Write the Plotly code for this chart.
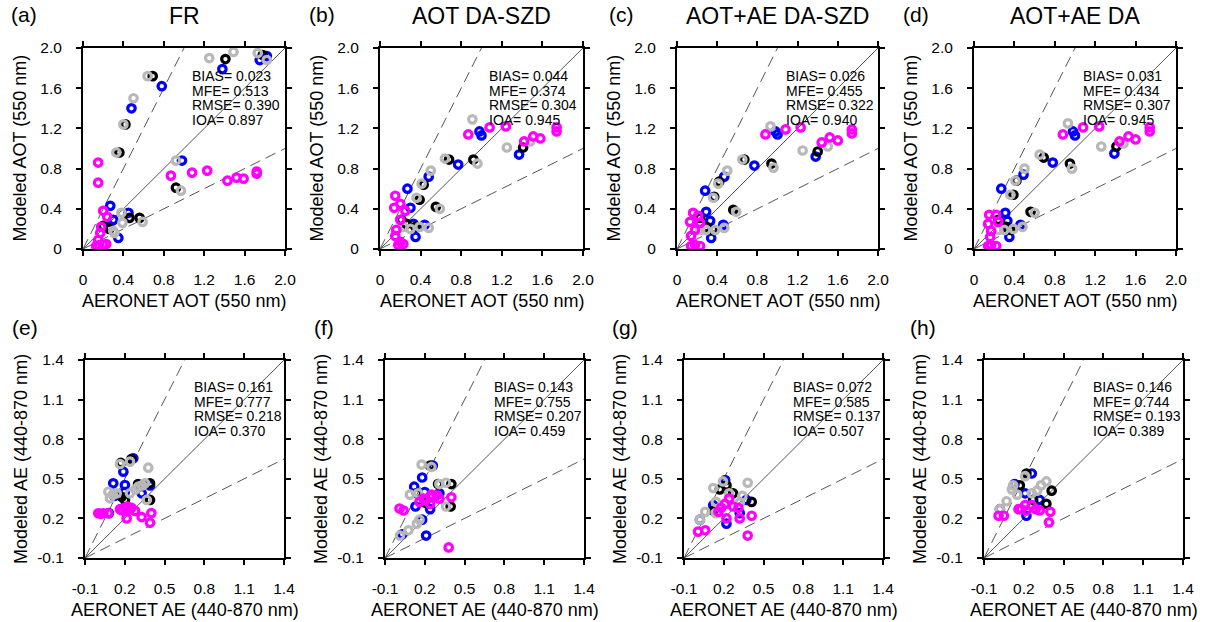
import plotly.graph_objects as go

# ---------------- data (observed, modeled) ----------------
PANEL_LABELS = ["(a)", "(b)", "(c)", "(d)", "(e)", "(f)", "(g)", "(h)"]
TITLES = ["FR", "AOT DA-SZD", "AOT+AE DA-SZD", "AOT+AE DA"]
AOT_TICKS = [0, 0.4, 0.8, 1.2, 1.6, 2.0]
AOT_TICKTEXT = ["0", "0.4", "0.8", "1.2", "1.6", "2.0"]
AE_TICKS = [-0.1, 0.2, 0.5, 0.8, 1.1, 1.4]
AE_TICKTEXT = ["-0.1", "0.2", "0.5", "0.8", "1.1", "1.4"]

STATS = [
    ["BIAS= 0.023", "MFE= 0.513", "RMSE= 0.390", "IOA= 0.897"],
    ["BIAS= 0.044", "MFE= 0.374", "RMSE= 0.304", "IOA= 0.945"],
    ["BIAS= 0.026", "MFE= 0.455", "RMSE= 0.322", "IOA= 0.940"],
    ["BIAS= 0.031", "MFE= 0.434", "RMSE= 0.307", "IOA= 0.945"],
    ["BIAS= 0.161", "MFE= 0.777", "RMSE= 0.218", "IOA= 0.370"],
    ["BIAS= 0.143", "MFE= 0.755", "RMSE= 0.207", "IOA= 0.459"],
    ["BIAS= 0.072", "MFE= 0.585", "RMSE= 0.137", "IOA= 0.507"],
    ["BIAS= 0.146", "MFE= 0.744", "RMSE= 0.193", "IOA= 0.389"],
]

# panel (a) FR AOT
A_BLUE = [(1.38,1.79),(0.78,1.62),(0.48,1.40),(1.82,1.92),(1.75,1.88),(0.98,0.88),(0.27,0.43),
          (0.45,0.36),(0.30,0.29),(0.35,0.11),(0.26,0.22)]
A_BLACK = [(1.41,1.89),(1.78,1.93),(0.69,1.72),(0.42,1.24),(0.36,0.96),(0.92,0.61),(0.56,0.31),
           (0.26,0.20),(0.20,0.23),(0.46,0.31)]
A_GRAY = [(1.25,1.90),(1.49,1.96),(1.73,1.95),(1.82,1.88),(0.50,1.50),(0.40,1.24),(0.33,0.96),
          (0.64,1.72),(0.92,0.88),(0.97,0.58),(0.59,0.27),(0.39,0.26),(0.30,0.18),(0.38,0.36),(0.31,0.16)]
A_MAG = [(0.15,0.86),(0.15,0.66),(0.87,0.73),(1.08,0.76),(1.23,0.78),(1.43,0.68),(1.52,0.71),
         (1.59,0.70),(1.72,0.75),(1.72,0.77),(0.20,0.38),(0.24,0.32),(0.18,0.22),(0.17,0.16),
         (0.15,0.09),(0.16,0.04),(0.20,0.04),(0.23,0.05),(0.13,0.03)]

# panel (b) AOT DA-SZD
B_BLUE = [(0.98,1.17),(1.00,1.13),(0.77,0.84),(0.48,0.72),(0.27,0.60),(0.30,0.41),(0.33,0.25),
          (0.44,0.24),(0.35,0.12),(1.37,0.94)]
B_BLACK = [(1.41,1.01),(0.92,0.89),(0.68,0.89),(0.43,0.64),(0.39,0.49),(0.55,0.42),(0.21,0.29),
           (0.35,0.22),(0.26,0.25)]
B_GRAY = [(0.91,1.29),(1.25,1.01),(1.48,1.07),(0.96,0.85),(0.64,0.90),(0.50,0.78),(0.41,0.65),
          (0.36,0.51),(0.59,0.40),(0.30,0.20),(0.39,0.22),(0.48,0.21),(0.23,0.22)]
B_MAG = [(0.87,1.14),(1.08,1.21),(1.24,1.22),(1.42,1.07),(1.51,1.12),(1.58,1.10),(1.74,1.21),
         (1.74,1.17),(0.15,0.53),(0.14,0.41),(0.20,0.45),(0.25,0.38),(0.20,0.29),(0.16,0.19),
         (0.15,0.13),(0.20,0.07),(0.23,0.05),(0.18,0.04)]

# panel (c) AOT+AE DA-SZD
C_BLUE = [(0.98,1.17),(1.00,1.14),(0.77,0.83),(0.47,0.72),(0.28,0.58),(0.29,0.37),(0.33,0.28),
          (0.46,0.24),(0.34,0.11),(1.38,0.92)]
C_BLACK = [(1.40,0.97),(0.94,0.85),(0.67,0.89),(0.42,0.67),(0.37,0.52),(0.56,0.39),(0.23,0.31),
           (0.36,0.19),(0.29,0.22)]
C_GRAY = [(0.93,1.22),(1.25,0.98),(1.50,1.02),(0.96,0.81),(0.65,0.89),(0.50,0.78),(0.41,0.65),
          (0.36,0.51),(0.59,0.37),(0.29,0.19),(0.38,0.19),(0.47,0.21),(0.23,0.19)]
C_MAG = [(0.88,1.14),(1.08,1.19),(1.23,1.21),(1.44,1.06),(1.52,1.11),(1.60,1.08),(1.74,1.19),
         (1.74,1.15),(0.16,0.36),(0.13,0.27),(0.21,0.33),(0.23,0.26),(0.18,0.19),(0.14,0.13),
         (0.18,0.04),(0.23,0.03),(0.14,0.03)]

# panel (d) AOT+AE DA
D_BLUE = [(0.98,1.17),(1.00,1.13),(0.78,0.86),(0.49,0.74),(0.27,0.60),(0.31,0.36),(0.33,0.28),
          (0.46,0.24),(0.35,0.12),(1.39,0.95)]
D_BLACK = [(1.41,1.02),(0.95,0.85),(0.69,0.91),(0.42,0.68),(0.39,0.54),(0.56,0.37),(0.24,0.29),
           (0.36,0.19),(0.32,0.22)]
D_GRAY = [(0.93,1.25),(1.26,1.02),(1.48,1.05),(0.97,0.80),(0.65,0.94),(0.50,0.80),(0.41,0.68),
          (0.36,0.54),(0.60,0.36),(0.30,0.19),(0.39,0.20),(0.48,0.22),(0.24,0.19)]
D_MAG = [(0.88,1.14),(1.08,1.21),(1.24,1.22),(1.44,1.07),(1.53,1.12),(1.60,1.09),(1.74,1.21),
         (1.74,1.17),(0.15,0.34),(0.22,0.34),(0.14,0.25),(0.24,0.27),(0.17,0.18),(0.16,0.12),
         (0.17,0.04),(0.22,0.03),(0.14,0.03)]

# panel (e) FR AE
E_BLUE = [(0.264,0.655),(0.189,0.554),(0.113,0.466),(0.201,0.453),(0.327,0.39),(0.20,0.40),
          (0.39,0.45),(0.12,0.37),(0.08,0.24)]
E_BLACK = [(0.25,0.65),(0.176,0.364),(0.201,0.34),(0.39,0.466),(0.39,0.34),(0.30,0.46),(0.17,0.62)]
E_GRAY = [(0.164,0.612),(0.239,0.63),(0.377,0.584),(0.076,0.402),(0.139,0.39),(0.088,0.352),
          (0.239,0.39),(0.302,0.44),(0.352,0.466),(0.365,0.34),(0.28,0.42),(0.33,0.45),(0.11,0.38)]
E_MAG = [(0.00,0.239),(0.038,0.239),(0.076,0.239),(0.02,0.235),(0.164,0.27),(0.20,0.28),
         (0.239,0.27),(0.277,0.257),(0.22,0.29),(0.25,0.28),(0.214,0.20),(0.327,0.21),
         (0.39,0.167),(0.40,0.24),(0.18,0.26)]

# panel (f) AOT DA-SZD AE
F_BLUE = [(0.26,0.60),(0.18,0.51),(0.12,0.44),(0.13,0.29),(0.18,0.19),(0.21,0.07),(0.24,0.27),
          (0.03,0.08),(0.31,0.39),(0.20,0.40)]
F_BLACK = [(0.30,0.46),(0.40,0.46),(0.395,0.29),(0.24,0.60),(0.14,0.39),(0.20,0.32)]
F_GRAY = [(0.176,0.608),(0.25,0.59),(0.088,0.38),(0.15,0.39),(0.31,0.46),(0.36,0.47),(0.36,0.29),
          (0.013,0.07),(0.076,0.11),(0.14,0.16),(0.16,0.19)]
F_MAG = [(0.01,0.275),(0.04,0.26),(0.40,0.36),(0.38,-0.02),(0.16,0.325),(0.21,0.34),(0.25,0.36),
         (0.29,0.375),(0.24,0.31),(0.31,0.35),(0.25,0.38),(0.19,0.35)]

# panel (g) AOT+AE DA-SZD AE
G_BLUE = [(0.21,0.49),(0.02,0.19),(0.22,0.16),(0.12,0.30),(0.32,0.24),(0.37,0.34)]
G_BLACK = [(0.17,0.42),(0.27,0.39),(0.41,0.325),(0.12,0.26),(0.22,0.45)]
G_GRAY = [(0.194,0.48),(0.38,0.47),(0.12,0.43),(0.24,0.39),(0.34,0.37),(0.14,0.325),(0.06,0.25),
          (0.02,0.19),(0.14,0.24),(0.32,0.32)]
G_MAG = [(0.006,0.10),(0.06,0.11),(0.38,0.07),(0.41,0.22),(0.32,0.20),(0.22,0.20),(0.16,0.25),
         (0.21,0.31),(0.27,0.29),(0.24,0.35),(0.31,0.28),(0.18,0.28)]

# panel (h) AOT+AE DA AE
H_BLUE = [(0.26,0.54),(0.21,0.39),(0.32,0.34),(0.22,0.22),(0.02,0.27),(0.13,0.46)]
H_BLACK = [(0.22,0.54),(0.41,0.41),(0.37,0.31),(0.17,0.45),(0.27,0.34)]
H_GRAY = [(0.12,0.45),(0.21,0.52),(0.15,0.38),(0.07,0.33),(0.02,0.27),(0.30,0.41),(0.37,0.48),
          (0.33,0.45),(0.26,0.39),(0.11,0.42)]
H_MAG = [(0.01,0.22),(0.05,0.22),(0.40,0.25),(0.39,0.17),(0.32,0.26),(0.16,0.27),(0.21,0.30),
         (0.26,0.30),(0.22,0.26),(0.29,0.27),(0.18,0.27)]

PANEL_SERIES = [
    [A_BLUE, A_BLACK, A_GRAY, A_MAG],
    [B_BLUE, B_BLACK, B_GRAY, B_MAG],
    [C_BLUE, C_BLACK, C_GRAY, C_MAG],
    [D_BLUE, D_BLACK, D_GRAY, D_MAG],
    [E_BLUE, E_BLACK, E_GRAY, E_MAG],
    [F_BLUE, F_BLACK, F_GRAY, F_MAG],
    [G_BLUE, G_BLACK, G_GRAY, G_MAG],
    [H_BLUE, H_BLACK, H_GRAY, H_MAG],
]

# ---------------- styling / layout ----------------
W, H = 1205, 622
COLORS = ["#0000ff", "#000000", "#b8b8b8", "#ff00ff"]
FONT = "Liberation Sans, Arial, Helvetica, sans-serif"

# plot-area pixel boxes (left, right, top, bottom)
BOXES = [
    (83, 285, 48, 249), (380, 583, 48, 249), (677, 878, 48, 249), (974, 1176, 48, 249),
    (85, 284, 360, 558), (385, 584, 360, 558), (684, 883, 360, 558), (984, 1183, 360, 558),
]
LABEL_X = [9, 307, 607, 901, 10, 312, 610, 908]

fig = go.Figure()
layout = dict(
    width=W, height=H, margin=dict(l=0, r=0, t=0, b=0, autoexpand=False),
    paper_bgcolor="white", plot_bgcolor="white", showlegend=False,
    font=dict(family=FONT, color="black"),
)
annotations = []

for i in range(8):
    l, r, t, b = BOXES[i]
    xa = "xaxis" if i == 0 else f"xaxis{i+1}"
    ya = "yaxis" if i == 0 else f"yaxis{i+1}"
    xr = "x" if i == 0 else f"x{i+1}"
    yr = "y" if i == 0 else f"y{i+1}"
    top_row = i < 4
    if top_row:
        lo, hi = 0.0, 2.0
        ticks, ticktext = AOT_TICKS, AOT_TICKTEXT
        xtitle, ytitle = "AERONET AOT (550 nm)", "Modeled AOT (550 nm)"
    else:
        lo, hi = -0.1, 1.4
        ticks, ticktext = AE_TICKS, AE_TICKTEXT
        xtitle, ytitle = "AERONET AE (440-870 nm)", "Modeled AE (440-870 nm)"
    span = hi - lo
    axcommon = dict(
        range=[lo, hi], tickvals=ticks, ticktext=ticktext, automargin=False,
        showline=True, linecolor="black", linewidth=2, mirror="ticks",
        ticks="outside", ticklen=5, tickwidth=2, tickcolor="black",
        showgrid=False, zeroline=False,
        tickfont=dict(family=FONT, size=15.5, color="black"),
    )
    layout[xa] = dict(axcommon, domain=[l / W, r / W], anchor=yr, ticklabelstandoff=10)
    layout[ya] = dict(axcommon, domain=[1 - b / H, 1 - t / H], anchor=xr, ticklabelstandoff=11)

    # reference lines 1:1, 2:1, 1:2
    fig.add_trace(go.Scatter(x=[lo, hi], y=[lo, hi], mode="lines", xaxis=xr, yaxis=yr,
                             line=dict(color="#555555", width=1), hoverinfo="skip"))
    fig.add_trace(go.Scatter(x=[lo, lo + span / 2], y=[lo, hi], mode="lines", xaxis=xr, yaxis=yr,
                             line=dict(color="#555555", width=1, dash="11px,6px"), hoverinfo="skip"))
    fig.add_trace(go.Scatter(x=[lo, hi], y=[lo, lo + span / 2], mode="lines", xaxis=xr, yaxis=yr,
                             line=dict(color="#555555", width=1, dash="11px,6px"), hoverinfo="skip"))

    for pts, col in zip(PANEL_SERIES[i], COLORS):
        fig.add_trace(go.Scatter(
            x=[p[0] for p in pts], y=[p[1] for p in pts], mode="markers",
            xaxis=xr, yaxis=yr, cliponaxis=True,
            marker=dict(symbol="circle-open", size=7.5, color=col, line=dict(width=3.2, color=col)),
        ))

    # stats text
    for k, s in enumerate(STATS[i]):
        py = t + (28 if top_row else 27) + k * 14.5
        annotations.append(dict(
            text=s, xref="paper", yref="paper", x=(l + 107) / W, y=1 - py / H,
            xanchor="left", yanchor="middle", showarrow=False,
            font=dict(family=FONT, size=14, color="black"),
        ))

    # panel label
    label_y = 15 if top_row else 328
    annotations.append(dict(
        text=PANEL_LABELS[i], xref="paper", yref="paper", x=LABEL_X[i] / W, y=1 - label_y / H,
        xanchor="left", yanchor="middle", showarrow=False,
        font=dict(family=FONT, size=21, color="black"),
    ))
    if top_row:
        annotations.append(dict(
            text=TITLES[i], xref="paper", yref="paper", x=((l + r) / 2) / W, y=1 - 16 / H,
            xanchor="center", yanchor="middle", showarrow=False,
            font=dict(family=FONT, size=23, color="black"),
        ))
    # axis titles
    annotations.append(dict(
        text=xtitle, xref="paper", yref="paper", x=((l + r) / 2) / W, y=1 - (b + 52) / H,
        xanchor="center", yanchor="middle", showarrow=False,
        font=dict(family=FONT, size=18, color="black"),
    ))
    annotations.append(dict(
        text=ytitle, xref="paper", yref="paper", x=(l - 64) / W, y=1 - ((t + b) / 2) / H,
        xanchor="center", yanchor="middle", showarrow=False, textangle=-90,
        font=dict(family=FONT, size=18, color="black"),
    ))

layout["annotations"] = annotations
fig.update_layout(**layout)
fig.write_html("out.html")
